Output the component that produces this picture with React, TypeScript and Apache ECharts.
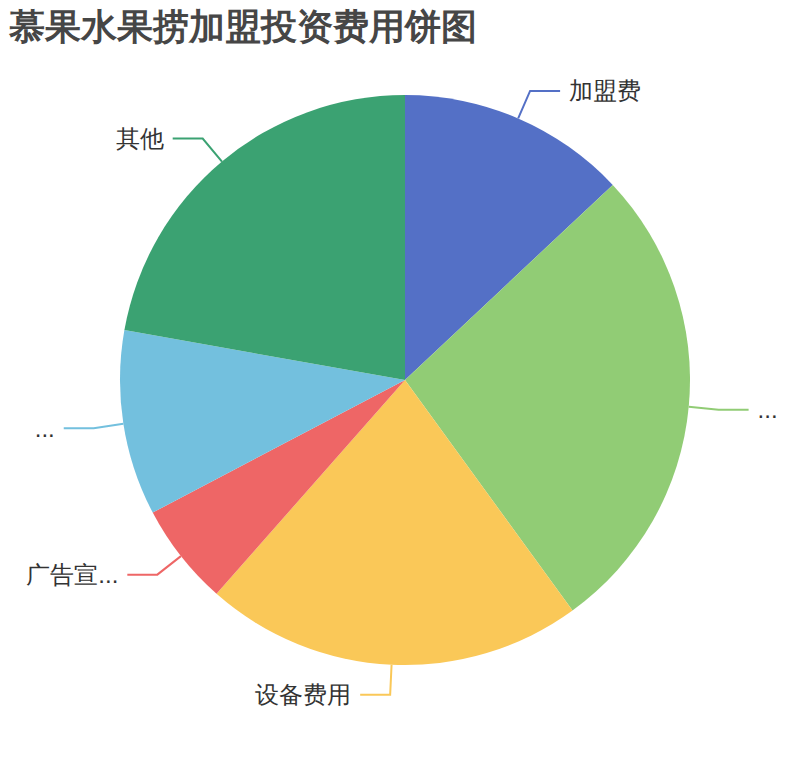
import React, { useEffect, useRef } from "react";
import * as echarts from "echarts";

const titleText = "慕果水果捞加盟投资费用饼图";
const categories = ["加盟费", "店面装修费用", "设备费用", "广告宣传费用", "首批进货费用", "其他"];
const values = [13, 27, 21.5, 5.8, 10.5, 22.2];
const palette = ["#5470c6", "#91cc75", "#fac858", "#ee6666", "#73c0de", "#3ba272"];

export default function App() {
  const ref = useRef<HTMLDivElement>(null);
  useEffect(() => {
    if (!ref.current) return;
    const chart = echarts.init(ref.current, null, { renderer: "svg" });
    chart.setOption({
      animation: false,
      color: palette,
      title: {
        text: titleText,
        left: 1,
        top: 0,
        padding: 0,
        textStyle: { fontSize: 36, fontWeight: "bold", color: "#464646" },
      },
      series: [
        {
          type: "pie",
          center: ["50%", "50%"],
          radius: 285,
          startAngle: 90,
          data: categories.map((name, i) => ({ name, value: values[i] })),
          label: { fontSize: 24, color: "#333", distanceToLabelLine: 9 },
          labelLine: { length: 30, length2: 30, lineStyle: { width: 2 } },
        },
      ],
    });
    return () => chart.dispose();
  }, []);
  return <div ref={ref} style={{ width: 794, height: 744 }} />;
}
